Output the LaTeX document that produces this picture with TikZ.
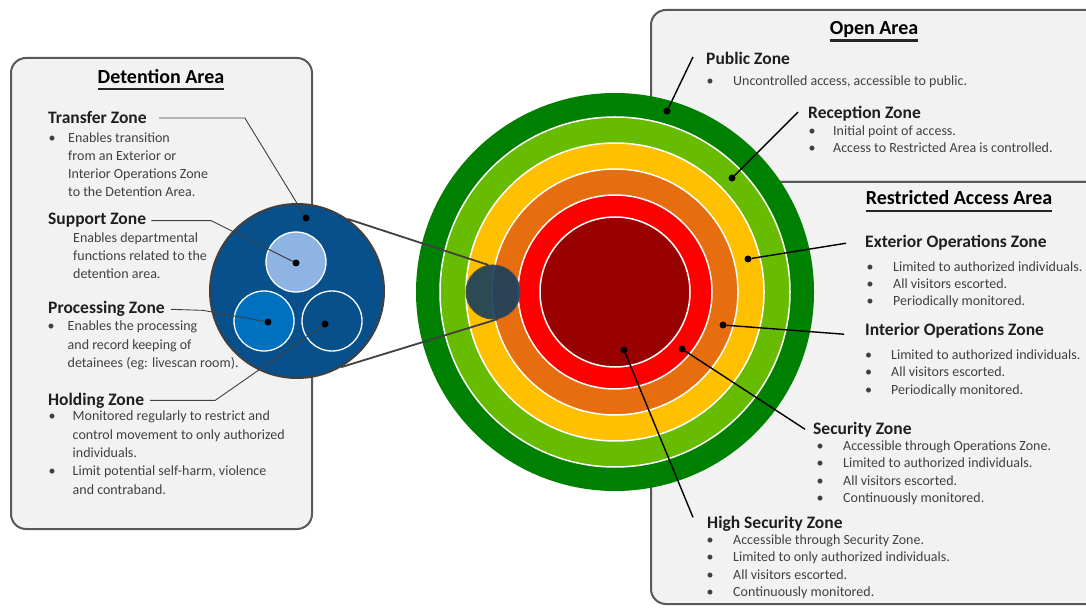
\documentclass[tikz,border=0pt]{standalone}
\usepackage{fontspec}
\setmainfont{Carlito}
\usepackage{tikz}

\definecolor{boxfill}{RGB}{242,242,242}
\definecolor{boxline}{RGB}{89,89,89}
\definecolor{ringA}{RGB}{0,128,0}
\definecolor{ringB}{RGB}{104,188,0}
\definecolor{ringC}{RGB}{255,192,0}
\definecolor{ringD}{RGB}{230,110,15}
\definecolor{ringE}{RGB}{255,0,0}
\definecolor{ringF}{RGB}{153,0,0}
\definecolor{detblue}{RGB}{8,80,140}
\definecolor{supblue}{RGB}{141,180,226}
\definecolor{problue}{RGB}{0,112,192}
\definecolor{lensgray}{RGB}{22,62,94}

\newcommand\bul[1][26.5pt]{\makebox[#1][l]{\textbullet}}
\newcommand\ind[1][26.5pt]{\hspace*{#1}}

\begin{document}
\begin{tikzpicture}[x=1pt,y=-1pt,
  panel/.style={fill=boxfill,draw=boxline,line width=2pt,rounded corners=15pt},
  head/.style={font=\fontsize{20}{23}\selectfont\bfseries,inner sep=0pt,anchor=base},
  zone/.style={font=\fontsize{17.5}{20}\selectfont\bfseries,inner sep=0pt,anchor=base west,text=black!88},
  body/.style={font=\fontsize{14}{18.3}\selectfont,inner sep=0pt,anchor=base west,align=left,text=black!75},
  bodyR/.style={body,font=\fontsize{14}{17.5}\selectfont},
  uline/.style={line width=2.2pt,black!85},
  leadL/.style={draw=black!75,line width=0.9pt},
  leadR/.style={draw=black,line width=1.4pt},
  zdot/.style={circle,fill=black,inner sep=0pt,minimum size=7pt},
  ring/.style={draw=white,line width=1.5pt},
  subzone/.style={circle,draw=white,line width=1.3pt,minimum size=60pt,inner sep=0pt}]

  \useasboundingbox (0,0) rectangle (1086,609);
  \fill[white] (0,0) rectangle (1086,609);
  \clip (0,0) rectangle (1086,609);

  \draw[panel] (11,58) rectangle (312,529);
  \draw[panel] (651,10) rectangle (1110,182);
  \draw[panel] (651,182) rectangle (1110,604);

  \node[head] (dethead) at (161,84) {Detention Area};
  \draw[uline] ([yshift=-5pt]dethead.base west) -- ([yshift=-5pt]dethead.base east);
  \node[head] (openhead) at (874,35) {Open Area};
  \draw[uline] ([yshift=-5.5pt]openhead.base west) -- ([yshift=-5.5pt]openhead.base east);
  \node[head] (resthead) at (959,205) {Restricted Access Area};
  \draw[uline] ([yshift=-6pt]resthead.base west) -- ([yshift=-6pt]resthead.base east);

  \node[zone] (transfer) at (48,124) {Transfer Zone};
  \node[body] (transfertxt) at (48.5,197) {\bul[19.5pt]Enables transition\\\ind[19.5pt]from an Exterior or\\\ind[19.5pt]Interior Operations Zone\\\ind[19.5pt]to the Detention Area.};
  \node[zone] (support) at (48,225) {Support Zone};
  \node[body] (supporttxt) at (73,279) {Enables departmental\\functions related to the\\detention area.};
  \node[zone] (processing) at (48,314) {Processing Zone};
  \node[body] (processingtxt) at (47.5,367.5) {\bul[20pt]Enables the processing\\\ind[20pt]and record keeping of\\\ind[20pt]detainees (eg: livescan room).};
  \node[zone] (holding) at (48,405) {Holding Zone};
  \node[body] (holdingtxt) at (48.5,494) {\bul[24pt]Monitored regularly to restrict and\\\ind[24pt]control movement to only authorized\\\ind[24pt]individuals.\\\bul[24pt]Limit potential self-harm, violence\\\ind[24pt]and contraband.};

  \node[zone] (public) at (706,65) {Public Zone};
  \node[bodyR] (publictxt) at (706.5,86) {\bul Uncontrolled access, accessible to public.};
  \node[zone] (reception) at (808,119) {Reception Zone};
  \node[bodyR] (receptiontxt) at (808.5,153) {\bul[24.5pt]Initial point of access.\\\bul[24.5pt]Access to Restricted Area is controlled.};
  \node[zone] (exterior) at (865,248) {Exterior Operations Zone};
  \node[bodyR] (exteriortxt) at (866.5,306) {\bul Limited to authorized individuals.\\\bul All visitors escorted.\\\bul Periodically monitored.};
  \node[zone] (interior) at (865,335) {Interior Operations Zone};
  \node[bodyR] (interiortxt) at (865,394) {\bul[26pt]Limited to authorized individuals.\\\bul[26pt]All visitors escorted.\\\bul[26pt]Periodically monitored.};
  \node[zone] (security) at (813,434) {Security Zone};
  \node[bodyR] (securitytxt) at (816.5,502.5) {\bul Accessible through Operations Zone.\\\bul Limited to authorized individuals.\\\bul All visitors escorted.\\\bul Continuously monitored.};
  \node[zone] (highsec) at (707,528) {High Security Zone};
  \node[bodyR] (highsectxt) at (706.5,596.5) {\bul Accessible through Security Zone.\\\bul Limited to only authorized individuals.\\\bul All visitors escorted.\\\bul Continuously monitored.};

  \node[circle,fill=detblue,draw=black!75,line width=2pt,minimum size=174pt,inner sep=0pt] (detention) at (297,291) {};
  \node[subzone,fill=supblue] (supc) at (296,262) {};
  \node[subzone,fill=problue] (proc) at (264,321) {};
  \node[subzone,fill=detblue] (holc) at (332,321) {};

  \coordinate (core) at (615,292);
  \fill[ringA] (core) circle[radius=199pt];
  \filldraw[ring,fill=ringB] (core) circle[radius=175pt];
  \filldraw[ring,fill=ringC] (core) circle[radius=149pt];
  \filldraw[ring,fill=ringD] (core) circle[radius=123pt];
  \filldraw[ring,fill=ringE] (core) circle[radius=97pt];
  \filldraw[ring,fill=ringF] (core) circle[radius=75pt];

  \node[circle,fill=lensgray,fill opacity=0.9,draw=black!70,line width=1pt,minimum size=54pt,inner sep=0pt] (lens) at (493,292) {};
  \draw[black!75,line width=1.8pt] (detention.55) -- (lens.100) (detention.-60) -- (lens.-80);

  \node[zdot] (transferdot) at (306,218) {};
  \node[zdot] (supportdot) at (296,263) {};
  \node[zdot] (processingdot) at (268,322) {};
  \node[zdot] (holdingdot) at (325,324) {};
  \draw[leadL] ([xshift=12pt]transfer.east) -- ++(86,0) -- (transferdot);
  \draw[leadL] ([xshift=5pt]support.east) -- ++(60,0) -- (supportdot);
  \draw[leadL] ([xshift=6pt]processing.east) -- ++(32,1) -- (processingdot);
  \draw[leadL] ([xshift=6pt]holding.east) -- ++(65,0) -- (holdingdot);

  \node[zdot] (publicdot) at (667,111) {};
  \node[zdot] (receptiondot) at (732,178) {};
  \node[zdot] (exteriordot) at (748,259) {};
  \node[zdot] (interiordot) at (723,325) {};
  \node[zdot] (securitydot) at (682,349) {};
  \node[zdot] (highsecdot) at (624,350) {};
  \draw[leadR] (publicdot) -- ([xshift=-13pt,yshift=2pt]public.west);
  \draw[leadR] (receptiondot) -- ([xshift=-10pt,yshift=2pt]reception.west);
  \draw[leadR] (exteriordot) -- ([xshift=-19pt]exterior.west);
  \draw[leadR] (interiordot) -- ([xshift=-21pt,yshift=-4pt]interior.west);
  \draw[leadR] (securitydot) -- ([xshift=-8pt]security.west);
  \draw[leadR] (highsecdot) -- ([xshift=-14pt,yshift=6pt]highsec.west);
\end{tikzpicture}
\end{document}
